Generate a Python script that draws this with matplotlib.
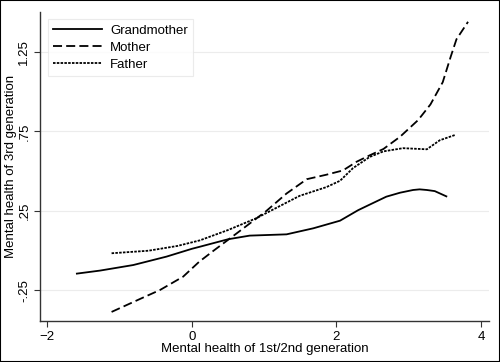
import matplotlib.pyplot as plt
from matplotlib.patches import Rectangle

# smoothed curves
gm_x = [-1.59, -1.27, -0.81, -0.35, 0.0, 0.11, 0.50, 0.80, 1.31, 1.68, 2.05, 2.30, 2.46, 2.69, 2.88, 3.06, 3.15, 3.25, 3.36, 3.52]
gm_y = [-0.144, -0.125, -0.09, -0.037, 0.012, 0.025, 0.072, 0.095, 0.103, 0.141, 0.189, 0.255, 0.29, 0.34, 0.365, 0.382, 0.386, 0.382, 0.375, 0.342]

mo_x = [-1.11, -0.70, -0.44, -0.12, 0.10, 0.30, 0.50, 0.71, 1.03, 1.31, 1.59, 1.86, 2.09, 2.28, 2.46, 2.65, 2.88, 3.13, 3.30, 3.47, 3.58, 3.66, 3.82]
mo_y = [-0.385, -0.30, -0.247, -0.163, -0.07, 0.0, 0.068, 0.14, 0.25, 0.36, 0.45, 0.478, 0.505, 0.56, 0.60, 0.64, 0.717, 0.822, 0.92, 1.06, 1.22, 1.33, 1.44]

fa_x = [-1.11, -0.60, -0.20, 0.11, 0.50, 0.89, 1.17, 1.49, 1.86, 2.05, 2.23, 2.46, 2.65, 2.92, 3.25, 3.43, 3.64]
fa_y = [-0.016, 0.0, 0.03, 0.065, 0.13, 0.204, 0.27, 0.345, 0.40, 0.44, 0.52, 0.59, 0.625, 0.645, 0.638, 0.695, 0.728]

x_ticks = [-2, 0, 2, 4]
y_ticks = [-0.25, 0.25, 0.75, 1.25]
y_tick_labels = ["-.25", ".25", ".75", "1.25"]

plt.rcParams['font.family'] = ['Liberation Sans', 'DejaVu Sans']

fig = plt.figure(figsize=(5, 3.62), dpi=100)
ax = fig.add_axes([0.08, 0.1133, 0.898, 0.8537])

ax.plot(gm_x, gm_y, color='black', linewidth=1.3, linestyle='-', label='Grandmother')
ax.plot(mo_x, mo_y, color='black', linewidth=1.3, linestyle=(0, (5, 2.3)), label='Mother')
ax.plot(fa_x, fa_y, color='black', linewidth=1.3, linestyle=(0, (1.4, 0.7)), label='Father')

ax.set_xlim(-2.1, 4.11)
ax.set_ylim(-0.442, 1.502)
ax.set_xticks(x_ticks)
ax.set_yticks(y_ticks)
ax.set_yticklabels(y_tick_labels, rotation=90, va='center')
ax.tick_params(axis='both', labelsize=9.5, direction='out', length=4, width=0.8, color='#333333', pad=3)
ax.grid(axis='y', color='#ececec', linewidth=0.8)
ax.set_axisbelow(True)

for side in ['top', 'right']:
    ax.spines[side].set_visible(False)
for side in ['left', 'bottom']:
    ax.spines[side].set_color('#333333')
    ax.spines[side].set_linewidth(1.0)

ax.set_xlabel("Mental health of 1st/2nd generation", fontsize=9.5, labelpad=0)
ax.set_ylabel("Mental health of 3rd generation", fontsize=9.5, labelpad=1)

leg = ax.legend(loc='upper left', fontsize=9.5, handlelength=3.7, handletextpad=0.6, frameon=True,
                fancybox=False, borderpad=0.4, labelspacing=0.35, bbox_to_anchor=(0.003, 0.997))
leg.get_frame().set_edgecolor('#e6e6e6')
leg.get_frame().set_linewidth(0.8)

fig.patches.append(Rectangle((0, 0), 1, 1, transform=fig.transFigure, fill=False,
                             edgecolor='black', linewidth=1.5))

fig.savefig('out.png', dpi=100)
